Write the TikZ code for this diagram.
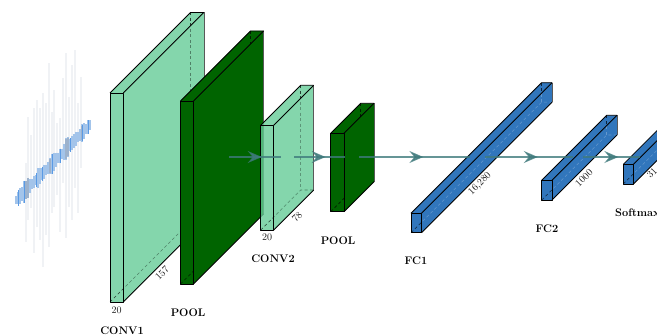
\documentclass[tikz,border=0pt]{standalone}
\usepackage{xcolor}
\usetikzlibrary{arrows.meta, decorations.markings}
\definecolor{convgreen}{HTML}{84D6AC}
\definecolor{convdeep}{HTML}{65CC97}
\definecolor{poolgreen}{HTML}{006400}
\definecolor{fcblue}{HTML}{3176BC}
\definecolor{flowteal}{HTML}{3F7A7C}
\definecolor{wavegray}{HTML}{F0F2F5}
\definecolor{wavelight}{HTML}{A3C4EA}
\definecolor{wavemid}{HTML}{9DB2CC}
\definecolor{wavedark}{HTML}{5A9AE4}
\tikzset{
  edge/.style={black, line width=0.8pt, line join=round},
  backedge/.style={black!65, line width=0.6pt},
  hidden/.style={black, line width=0.6pt, dash pattern=on 3pt off 2.5pt},
  layername/.style={font=\fontsize{11}{12}\selectfont\bfseries, inner sep=0pt},
  dimlabel/.style={font=\fontsize{10}{11}\selectfont, inner sep=0pt, text=black!90},
  flow/.style={flowteal, line width=1.5pt, opacity=0.8, postaction={decorate}},
  tipat/.style={decoration={markings, mark=at position #1 with {\arrow{Stealth[length=14pt, width=12pt, inset=5pt]}}}}
}
% x y = front top left, then width, height, depth, colour, opacity, colour of the dashes on the side
\newcommand{\cuboid}[9]{
  \begin{scope}[shift={(#2,#3)}]
    \coordinate (#1) at (0,0);
    \fill[#7, opacity=#8] (0,0) -- ++(#6,-#6) -- ++(#4,0) -- ++(-#6,#6) -- cycle;
    \fill[#7, opacity=#8] (0,0) rectangle (#4,#5);
    \draw[hidden, opacity=0.7] (0,#5) -- ++(#6,-#6) -- ++(#4,0);
    \draw[hidden, opacity=0.7] (#6,-#6) -- ++(0,#5);
    \fill[#7, opacity=#8] (#4,0) -- ++(#6,-#6) -- ++(0,#5) -- ++(-#6,#6) -- cycle;
    \begin{scope}
      \clip (#4,0) -- ++(#6,-#6) -- ++(0,#5) -- ++(-#6,#6) -- cycle;
      \draw[hidden, #9] (0,#5) -- ++(#6,-#6) -- ++(#4,0);
      \draw[hidden, #9] (#6,-#6) -- ++(0,#5);
    \end{scope}
    \draw[edge] (0,0) rectangle (#4,#5);
    \draw[edge] (0,0) -- ++(#6,-#6) -- ++(#4,0);
    \draw[backedge] (#6,-#6) ++(#4,0) -- ++(0,#5);
    \draw[edge] (#4,#5) -- ++(#6,-#6);
    \draw[edge] (#4,0) -- ++(#6,-#6);
  \end{scope}
}
\begin{document}
\begin{tikzpicture}[x=1pt, y=-1pt]
\useasboundingbox (0,0) rectangle (657,336);

% input signal
\foreach \bx/\bt/\bb in {25.7/163/242, 28.3/117/220, 31.3/135/208, 34/108/253, 37/100/227,
  40/108/240, 42.7/93/267, 45.7/103/235, 48.7/63/247, 51.7/112/213, 54.3/90/207,
  57.3/123/195, 60.3/118/232, 63.3/78/183, 66/53/238, 69/97/207, 71.7/65/220,
  74.7/50/188, 77.7/103/213, 80.7/77/168}
  \draw[wavegray, line width=2pt] (\bx,\bt) -- (\bx,\bb);
\foreach \wx/\wh in {16/4, 18/6, 20/8, 22/7, 24/11, 26/9, 28/10, 30/7, 32/5, 34/6,
  36/5, 38/10, 40/8, 42/6, 44/7, 46/5, 48/6, 50/8, 52/10, 54/9, 56/7, 58/5, 60/7,
  62/5, 64/8, 66/11, 68/10, 70/6, 72/7, 74/7, 76/7, 78/5, 80/6, 82/9, 84/8, 86/5, 88/7, 90/5}
  \draw[wavelight, line width=2.2pt] (\wx,{200-(\wx-16)*1.01-\wh}) -- (\wx,{200-(\wx-16)*1.01+\wh});
\foreach \wx/\wh in {26/9, 28/10, 50/7, 66/10, 68/9, 82/7}
  \draw[wavemid, line width=2pt] (\wx,{200-(\wx-16)*1.01-\wh}) -- (\wx,{200-(\wx-16)*1.01+\wh});
\foreach \wx/\wh in {18/8, 24/11, 36/7, 42/7, 52/10, 60/7, 70/7, 82/8, 88/7}
  \draw[wavedark, line width=0.9pt] (\wx,{200-(\wx-16)*1.01-\wh}) -- (\wx,{200-(\wx-16)*1.01+\wh});

% layers
\cuboid{conva}{110}{93}{13.3}{209}{80.5}{convgreen}{1}{black!40!convgreen}
\cuboid{poola}{180.5}{101}{13}{183}{70}{poolgreen}{1}{poolgreen}
\cuboid{convb}{260.7}{125.3}{13}{104.7}{40}{convdeep}{0.8}{black!30!convgreen}
\cuboid{poolb}{330.7}{133.3}{13.3}{78.4}{30}{poolgreen}{1}{poolgreen}
\cuboid{fca}{411}{213.3}{10.5}{19.4}{130.6}{fcblue}{1}{fcblue!75!white}
\cuboid{fcb}{541.7}{180.3}{10.3}{19.7}{65}{fcblue}{1}{fcblue!75!white}
\cuboid{fcc}{623.3}{164.3}{10.2}{19.7}{40}{fcblue}{1}{fcblue!75!white}

% flow through the network
\coordinate (fa) at (229,157);
\coordinate (fb) at (281,157);
\coordinate (fc) at (294,157);
\coordinate (fd) at (345,157);
\coordinate (fe) at (359,157);
\coordinate (ff) at (470,157);
\coordinate (fg) at (485,157);
\coordinate (fh) at (573,157);
\coordinate (fi) at (583,157);
\coordinate (fj) at (640,157);
\draw[flow, tipat=0.63] (fa) -- (fb);
\draw[flow, tipat=0.62] (fc) -- (fd);
\draw[flow, tipat=0.58] (fe) -- (ff);
\draw[flow, tipat=0.6] (fg) -- (fh);
\draw[flow, tipat=0.62] (fi) -- (fj);

% dimensions
\node[dimlabel] (dconva) at (116.5,310.5) {20};
\node[dimlabel, rotate=45] (lenconva) at (162,273) {157};
\node[dimlabel] (dconvb) at (267,237) {20};
\node[dimlabel, rotate=45] (lenconvb) at (297,217) {78};
\node[dimlabel, rotate=45] (lenfca) at (480,184) {16,280};
\node[dimlabel, rotate=45] (lenfcb) at (584,178) {1000};
\node[dimlabel, rotate=45] (lenfcc) at (652,173) {31};

% layer names
\node[layername] (nconva) at (122,331) {CONV1};
\node[layername] (npoola) at (188,313) {POOL};
\node[layername] (nconvb) at (273,259) {CONV2};
\node[layername] (npoolb) at (338,241) {POOL};
\node[layername] (nfca) at (416,261) {FC1};
\node[layername] (nfcb) at (547,229) {FC2};
\node[layername, anchor=west] (nfcc) at (615,213) {Softmax};
\end{tikzpicture}
\end{document}
